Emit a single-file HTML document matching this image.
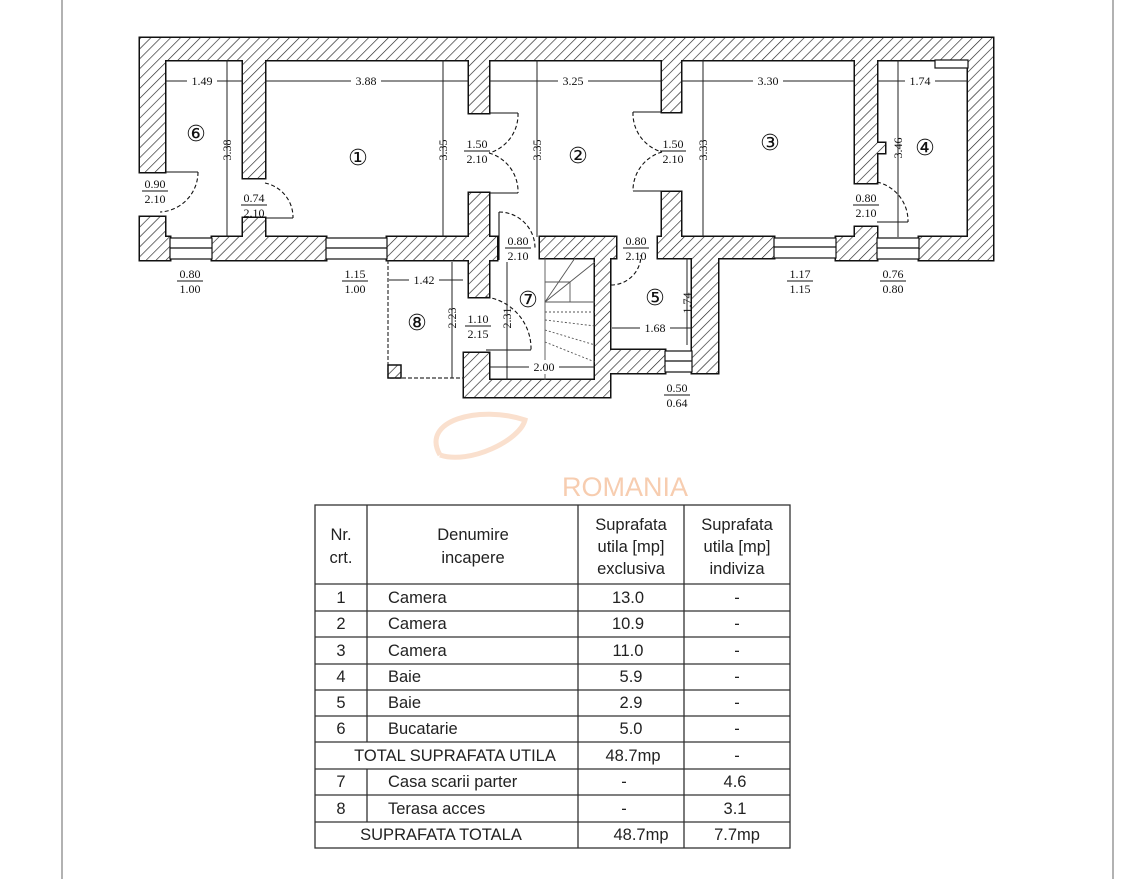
<!DOCTYPE html>
<html><head><meta charset="utf-8"><style>
html,body{margin:0;padding:0;background:#fff;}
svg{display:block;}
text{font-family:"Liberation Serif",serif;}
.t text{font-family:"Liberation Sans",sans-serif;font-size:16.5px;fill:#222;}
.d{font-size:12px;fill:#111;}
.c text{font-size:22px;fill:#111;font-family:"DejaVu Sans",sans-serif;}
</style></head><body>
<svg width="1125" height="879" viewBox="0 0 1125 879" xmlns="http://www.w3.org/2000/svg">
<defs>
<pattern id="h" patternUnits="userSpaceOnUse" width="7" height="7" patternTransform="rotate(45)">
<rect width="7" height="7" fill="#fff"/><line x1="0" y1="0" x2="0" y2="7" stroke="#222" stroke-width="1.3"/>
</pattern>
</defs>
<rect width="1125" height="879" fill="#fff"/>
<line x1="62" y1="0" x2="62" y2="879" stroke="#999" stroke-width="1.5"/>
<line x1="1113" y1="0" x2="1113" y2="879" stroke="#999" stroke-width="1.5"/>

<g stroke="#111" stroke-width="3" fill="#111">
<rect x="140" y="38" width="853" height="22"/>
<rect x="140" y="38" width="25" height="134"/>
<rect x="140" y="217" width="25" height="43"/>
<rect x="140" y="237" width="30" height="23"/>
<rect x="212" y="237" width="114" height="23"/>
<rect x="387" y="237" width="110" height="23"/>
<rect x="243" y="60" width="22" height="118"/>
<rect x="243" y="218" width="22" height="19"/>
<rect x="469" y="60" width="20" height="53"/>
<rect x="469" y="193" width="20" height="104"/>
<rect x="540" y="237" width="76" height="21"/>
<rect x="595" y="237" width="15" height="160"/>
<rect x="464" y="353" width="25" height="44"/>
<rect x="464" y="380" width="146" height="17"/>
<rect x="610" y="350" width="55" height="23"/>
<rect x="692" y="237" width="26" height="136"/>
<rect x="658" y="237" width="116" height="21"/>
<rect x="662" y="60" width="19" height="52"/>
<rect x="662" y="192" width="19" height="45"/>
<rect x="836" y="237" width="41" height="23"/>
<rect x="855" y="227" width="22" height="12"/>
<rect x="855" y="60" width="22" height="123"/>
<rect x="877" y="143" width="8" height="10"/>
<rect x="919" y="237" width="74" height="23"/>
<rect x="968" y="38" width="25" height="222"/>
</g>
<g fill="url(#h)" stroke="none">
<rect x="140" y="38" width="853" height="22"/>
<rect x="140" y="38" width="25" height="134"/>
<rect x="140" y="217" width="25" height="43"/>
<rect x="140" y="237" width="30" height="23"/>
<rect x="212" y="237" width="114" height="23"/>
<rect x="387" y="237" width="110" height="23"/>
<rect x="243" y="60" width="22" height="118"/>
<rect x="243" y="218" width="22" height="19"/>
<rect x="469" y="60" width="20" height="53"/>
<rect x="469" y="193" width="20" height="104"/>
<rect x="540" y="237" width="76" height="21"/>
<rect x="595" y="237" width="15" height="160"/>
<rect x="464" y="353" width="25" height="44"/>
<rect x="464" y="380" width="146" height="17"/>
<rect x="610" y="350" width="55" height="23"/>
<rect x="692" y="237" width="26" height="136"/>
<rect x="658" y="237" width="116" height="21"/>
<rect x="662" y="60" width="19" height="52"/>
<rect x="662" y="192" width="19" height="45"/>
<rect x="836" y="237" width="41" height="23"/>
<rect x="855" y="227" width="22" height="12"/>
<rect x="855" y="60" width="22" height="123"/>
<rect x="877" y="143" width="8" height="10"/>
<rect x="919" y="237" width="74" height="23"/>
<rect x="968" y="38" width="25" height="222"/>
</g>

<g fill="#fff" stroke="#111" stroke-width="1.2">
<rect x="170" y="238" width="42" height="21"/><line x1="170" y1="248" x2="212" y2="248"/>
<rect x="326" y="238" width="61" height="21"/><line x1="326" y1="248" x2="387" y2="248"/>
<rect x="774" y="238" width="62" height="20"/><line x1="774" y1="247" x2="836" y2="247"/>
<rect x="877" y="238" width="42" height="21"/><line x1="877" y1="248" x2="919" y2="248"/>
<rect x="665" y="351" width="27" height="21"/><line x1="665" y1="361" x2="692" y2="361"/>
</g>
<rect x="935" y="60" width="33" height="8" fill="#fff" stroke="#111" stroke-width="1.2"/>

<path d="M388 260 V378 H464" fill="none" stroke="#333" stroke-width="1.2" stroke-dasharray="4,2"/>
<rect x="388" y="365" width="13" height="13" fill="url(#h)" stroke="#111" stroke-width="1.5"/>

<g stroke="#555" stroke-width="0.9" fill="none">
<line x1="545" y1="258" x2="545" y2="380"/>
<line x1="545" y1="302" x2="595" y2="262"/>
<line x1="545" y1="302" x2="575" y2="258"/>
<path d="M545 282 H570 V302"/>
<line x1="545" y1="302" x2="595" y2="302"/>
<line x1="545" y1="312" x2="595" y2="312" stroke-dasharray="2,2"/>
<line x1="545" y1="320" x2="595" y2="326" stroke-dasharray="2,2"/>
<line x1="545" y1="330" x2="595" y2="345" stroke-dasharray="2,2"/>
<line x1="545" y1="342" x2="595" y2="362" stroke-dasharray="2,2"/>
</g>

<g stroke="#111" stroke-width="1.1" fill="none">
<line x1="165" y1="172" x2="198" y2="172"/>
<line x1="265" y1="218" x2="293" y2="218"/>
<line x1="489" y1="113" x2="518" y2="113"/><line x1="489" y1="193" x2="518" y2="193"/>
<line x1="633" y1="112" x2="662" y2="112"/><line x1="633" y1="191" x2="662" y2="191"/>
<line x1="499" y1="212" x2="499" y2="260"/>
<line x1="611" y1="258" x2="611" y2="285"/>
<line x1="486" y1="350" x2="531" y2="350"/>
<line x1="877" y1="222" x2="908" y2="222"/>
</g>
<g stroke="#111" stroke-width="1.1" fill="none" stroke-dasharray="4,2.5">
<path d="M198 172 A40 40 0 0 1 160 212"/>
<path d="M265 183 A35 35 0 0 1 293 218"/>
<path d="M518 113 A40 40 0 0 1 489 153"/>
<path d="M489 153 A40 40 0 0 1 518 193"/>
<path d="M633 112 A40 40 0 0 0 662 152"/>
<path d="M662 152 A40 40 0 0 0 633 191"/>
<path d="M499 212 A36 36 0 0 1 535 248"/>
<path d="M611 285 A30 30 0 0 0 641 255"/>
<path d="M486 297 A52 52 0 0 1 531 350"/>
<path d="M877 182 A40 40 0 0 1 908 222"/>
</g>

<g stroke="#222" stroke-width="1">
<line x1="165" y1="81" x2="243" y2="81"/>
<line x1="265" y1="81" x2="469" y2="81"/>
<line x1="489" y1="81" x2="662" y2="81"/>
<line x1="681" y1="81" x2="855" y2="81"/>
<line x1="877" y1="81" x2="968" y2="81"/>
<line x1="227" y1="60" x2="227" y2="237"/>
<line x1="443" y1="60" x2="443" y2="237"/>
<line x1="537" y1="60" x2="537" y2="237"/>
<line x1="703" y1="60" x2="703" y2="237"/>
<line x1="898" y1="60" x2="898" y2="237"/>
<line x1="389" y1="280" x2="463" y2="280"/>
<line x1="452" y1="262" x2="452" y2="378"/>
<line x1="507" y1="262" x2="507" y2="380"/>
<line x1="489" y1="367" x2="595" y2="367"/>
<line x1="612" y1="328" x2="692" y2="328"/>
<line x1="687" y1="258" x2="687" y2="345"/>
</g>
<g class="d" text-anchor="middle">
<rect x="187" y="74" width="30" height="14" fill="#fff"/><text x="202" y="85">1.49</text>
<rect x="351" y="74" width="30" height="14" fill="#fff"/><text x="366" y="85">3.88</text>
<rect x="558" y="74" width="30" height="14" fill="#fff"/><text x="573" y="85">3.25</text>
<rect x="753" y="74" width="30" height="14" fill="#fff"/><text x="768" y="85">3.30</text>
<rect x="905" y="74" width="30" height="14" fill="#fff"/><text x="920" y="85">1.74</text>
<rect x="409" y="273" width="30" height="14" fill="#fff"/><text x="424" y="284">1.42</text>
<rect x="529" y="360" width="30" height="14" fill="#fff"/><text x="544" y="371">2.00</text>
<rect x="640" y="321" width="30" height="14" fill="#fff"/><text x="655" y="332">1.68</text>
</g>
<g class="d" text-anchor="middle">
<text transform="translate(231,150) rotate(-90)">3.38</text>
<text transform="translate(447,150) rotate(-90)">3.35</text>
<text transform="translate(541,150) rotate(-90)">3.35</text>
<text transform="translate(707,150) rotate(-90)">3.33</text>
<text transform="translate(902,148) rotate(-90)">3.46</text>
<text transform="translate(456,318) rotate(-90)">2.23</text>
<text transform="translate(511,318) rotate(-90)">2.31</text>
<text transform="translate(691,303) rotate(-90)">1.74</text>
</g>
<g class="d" text-anchor="middle">
<g transform="translate(155,191)"><text y="-3">0.90</text><line x1="-13" x2="13" y1="0" y2="0" stroke="#111"/><text y="12">2.10</text></g>
<g transform="translate(254,205)"><text y="-3">0.74</text><line x1="-13" x2="13" y1="0" y2="0" stroke="#111"/><text y="12">2.10</text></g>
<g transform="translate(477,151)"><text y="-3">1.50</text><line x1="-13" x2="13" y1="0" y2="0" stroke="#111"/><text y="12">2.10</text></g>
<g transform="translate(673,151)"><text y="-3">1.50</text><line x1="-13" x2="13" y1="0" y2="0" stroke="#111"/><text y="12">2.10</text></g>
<g transform="translate(518,248)"><text y="-3">0.80</text><line x1="-13" x2="13" y1="0" y2="0" stroke="#111"/><text y="12">2.10</text></g>
<g transform="translate(636,248)"><text y="-3">0.80</text><line x1="-13" x2="13" y1="0" y2="0" stroke="#111"/><text y="12">2.10</text></g>
<g transform="translate(866,205)"><text y="-3">0.80</text><line x1="-13" x2="13" y1="0" y2="0" stroke="#111"/><text y="12">2.10</text></g>
<g transform="translate(478,326)"><text y="-3">1.10</text><line x1="-13" x2="13" y1="0" y2="0" stroke="#111"/><text y="12">2.15</text></g>
<g transform="translate(190,281)"><text y="-3">0.80</text><line x1="-13" x2="13" y1="0" y2="0" stroke="#111"/><text y="12">1.00</text></g>
<g transform="translate(355,281)"><text y="-3">1.15</text><line x1="-13" x2="13" y1="0" y2="0" stroke="#111"/><text y="12">1.00</text></g>
<g transform="translate(800,281)"><text y="-3">1.17</text><line x1="-13" x2="13" y1="0" y2="0" stroke="#111"/><text y="12">1.15</text></g>
<g transform="translate(893,281)"><text y="-3">0.76</text><line x1="-13" x2="13" y1="0" y2="0" stroke="#111"/><text y="12">0.80</text></g>
<g transform="translate(677,395)"><text y="-3">0.50</text><line x1="-13" x2="13" y1="0" y2="0" stroke="#111"/><text y="12">0.64</text></g>
</g>
<g class="c" text-anchor="middle">
<text x="358" y="165">①</text>
<text x="578" y="163">②</text>
<text x="770" y="150">③</text>
<text x="925" y="155">④</text>
<text x="655" y="305">⑤</text>
<text x="196" y="141">⑥</text>
<text x="528" y="307">⑦</text>
<text x="417" y="330">⑧</text>
</g>

<path d="M440 455 C420 420 480 405 525 420 C520 440 470 465 440 455" fill="none" stroke="#fae0ce" stroke-width="5"/>
<text x="625" y="496" text-anchor="middle" style="font-family:'Liberation Sans',sans-serif;font-size:27px;fill:#f7cdb0;">ROMANIA</text>

<g stroke="#333" stroke-width="1.3" fill="none">
<rect x="315" y="505" width="475" height="343"/>
<line x1="367" y1="505" x2="367" y2="742"/><line x1="367" y1="769" x2="367" y2="822"/>
<line x1="578" y1="505" x2="578" y2="848"/>
<line x1="684" y1="505" x2="684" y2="848"/>
<line x1="315" y1="584" x2="790" y2="584"/>
<line x1="315" y1="611" x2="790" y2="611"/>
<line x1="315" y1="637" x2="790" y2="637"/>
<line x1="315" y1="664" x2="790" y2="664"/>
<line x1="315" y1="690" x2="790" y2="690"/>
<line x1="315" y1="716" x2="790" y2="716"/>
<line x1="315" y1="742" x2="790" y2="742"/>
<line x1="315" y1="769" x2="790" y2="769"/>
<line x1="315" y1="795" x2="790" y2="795"/>
<line x1="315" y1="822" x2="790" y2="822"/>
</g>
<g class="t">
<text x="341" y="540" text-anchor="middle">Nr.</text><text x="341" y="563" text-anchor="middle">crt.</text>
<text x="473" y="540" text-anchor="middle">Denumire</text><text x="473" y="563" text-anchor="middle">incapere</text>
<text x="631" y="530" text-anchor="middle">Suprafata</text><text x="631" y="552" text-anchor="middle">utila [mp]</text><text x="631" y="574" text-anchor="middle">exclusiva</text>
<text x="737" y="530" text-anchor="middle">Suprafata</text><text x="737" y="552" text-anchor="middle">utila [mp]</text><text x="737" y="574" text-anchor="middle">indiviza</text>
<g text-anchor="middle">
<text x="341" y="603">1</text><text x="341" y="629">2</text><text x="341" y="656">3</text><text x="341" y="682">4</text><text x="341" y="708">5</text><text x="341" y="734">6</text>
<text x="341" y="787">7</text><text x="341" y="814">8</text>
<text x="628" y="603">13.0</text><text x="628" y="629">10.9</text><text x="628" y="656">11.0</text><text x="631" y="682">5.9</text><text x="631" y="708">2.9</text><text x="631" y="734">5.0</text>
<text x="633" y="761">48.7mp</text><text x="624" y="787">-</text><text x="624" y="814">-</text><text x="641" y="840">48.7mp</text>
<text x="737" y="603">-</text><text x="737" y="629">-</text><text x="737" y="656">-</text><text x="737" y="682">-</text><text x="737" y="708">-</text><text x="737" y="734">-</text><text x="737" y="761">-</text>
<text x="735" y="787">4.6</text><text x="735" y="814">3.1</text><text x="737" y="840">7.7mp</text>
<text x="455" y="761">TOTAL SUPRAFATA UTILA</text>
<text x="441" y="840">SUPRAFATA TOTALA</text>
</g>
<text x="388" y="603">Camera</text><text x="388" y="629">Camera</text><text x="388" y="656">Camera</text>
<text x="388" y="682">Baie</text><text x="388" y="708">Baie</text><text x="388" y="734">Bucatarie</text>
<text x="388" y="787">Casa scarii parter</text><text x="388" y="814">Terasa acces</text>
</g>
</svg>
</body></html>
